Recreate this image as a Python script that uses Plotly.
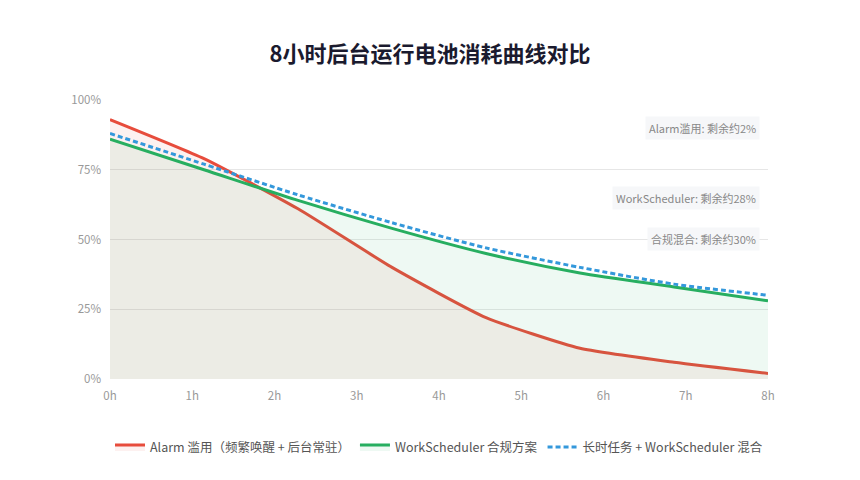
import plotly.graph_objects as go

# ---- data ----
hours = [0, 8/7, 16/7, 24/7, 32/7, 40/7, 48/7, 8]
tick_vals = [0, 1, 2, 3, 4, 5, 6, 7, 8]
tick_text = ["0h", "1h", "2h", "3h", "4h", "5h", "6h", "7h", "8h"]
y_tick_vals = [0, 25, 50, 75, 100]
y_tick_text = ["0%", "25%", "50%", "75%", "100%"]
alarm = [93, 79, 61, 40, 22, 11, 6, 2]
work = [86, 75, 64, 54, 45, 38, 33, 28]
mixed = [88, 77, 66, 56, 47, 40, 34, 30]
names = ["Alarm 滥用（频繁唤醒 + 后台常驻）", "WorkScheduler 合规方案", "长时任务 + WorkScheduler 混合"]
notes = ["Alarm滥用: 剩余约2%", "WorkScheduler: 剩余约28%", "合规混合: 剩余约30%"]
note_y = [90, 65, 50.2]
title = "8小时后台运行电池消耗曲线对比"

FONT = "Noto Sans CJK SC, Noto Sans, sans-serif"

fig = go.Figure()
fig.add_trace(go.Scatter(
    x=hours, y=alarm, name=names[0], mode="lines",
    line=dict(color="#E74C3C", width=3, shape="spline", smoothing=0.5),
    fill="tozeroy", fillcolor="rgba(231,76,60,0.08)"))
fig.add_trace(go.Scatter(
    x=hours, y=work, name=names[1], mode="lines",
    line=dict(color="#27AE60", width=3, shape="spline", smoothing=0.7),
    fill="tozeroy", fillcolor="rgba(39,174,96,0.08)"))
fig.add_trace(go.Scatter(
    x=hours, y=mixed, name=names[2], mode="lines",
    line=dict(color="#3498DB", width=3, dash="5px,3px", shape="spline", smoothing=0.7)))

for t, yv in zip(notes, note_y):
    fig.add_annotation(
        x=0.988, xref="paper", xanchor="right", y=yv, yref="y", yanchor="middle",
        text=t, showarrow=False, bgcolor="#F6F7F9", borderpad=3,
        font=dict(family=FONT, size=11, color="#888888"))

fig.update_layout(
    width=860, height=480,
    margin=dict(l=110, r=92, t=100, b=101),
    paper_bgcolor="white", plot_bgcolor="white",
    title=dict(text=f"<b>{title}</b>", x=0.5, xanchor="center", y=0.887, yanchor="middle",
               font=dict(family=FONT, size=22, color="#1a1a2e")),
    font=dict(family=FONT, color="#999999"),
    showlegend=True,
    legend=dict(orientation="h", x=0.5, xanchor="center", y=-0.245, yanchor="middle",
                font=dict(family=FONT, size=12.5, color="#555555"),
                itemwidth=30, bgcolor="rgba(0,0,0,0)"),
    xaxis=dict(range=[0, 8], tickvals=tick_vals, ticktext=tick_text, showgrid=False,
               zeroline=False, showline=False, ticks="", tickfont=dict(size=11.5, color="#999999"),
               ticklabelstandoff=8, fixedrange=True),
    yaxis=dict(range=[0, 100], tickvals=y_tick_vals, ticktext=y_tick_text,
               showgrid=True, gridcolor="#E6E6E6", gridwidth=1, zeroline=False, showline=False,
               ticks="", tickfont=dict(size=11.5, color="#999999"), ticklabelstandoff=8,
               fixedrange=True),
)

fig.write_html("out.html")
